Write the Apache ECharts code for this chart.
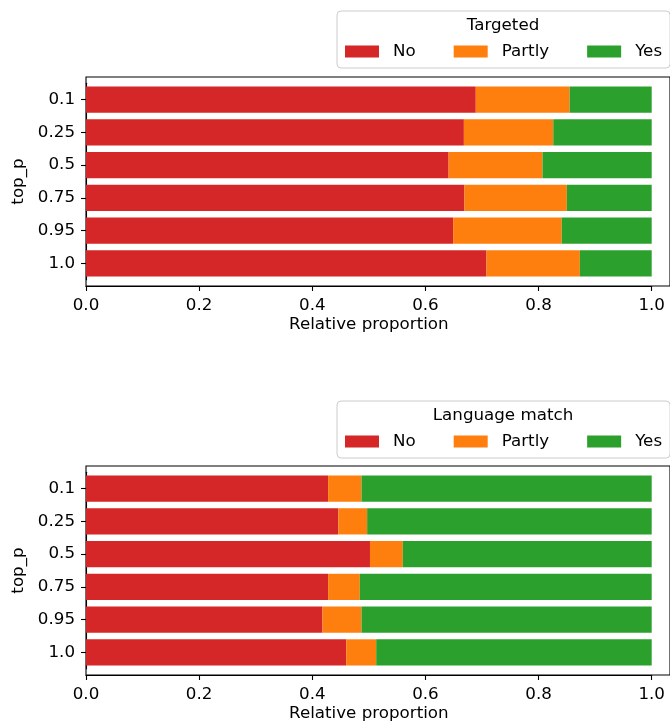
<!DOCTYPE html>
<html>
<head>
<meta charset="utf-8">
<script src="https://cdn.jsdelivr.net/npm/echarts@6/dist/echarts.min.js"></script>
<style>
  html, body { margin: 0; padding: 0; background: #fff; }
  #chart { width: 670px; height: 726px; }
</style>
</head>
<body>
<div id="chart"></div>
<script>
// top_p settings (one bar per setting, top to bottom)
const topP = ['0.1', '0.25', '0.5', '0.75', '0.95', '1.0'];
const answers = ['No', 'Partly', 'Yes'];

// "Targeted" relative proportions
const targetedNo     = [0.689, 0.668, 0.641, 0.669, 0.649, 0.708];
const targetedPartly = [0.166, 0.158, 0.166, 0.181, 0.192, 0.165];
const targetedYes    = [0.145, 0.174, 0.193, 0.150, 0.159, 0.127];

// "Language match" relative proportions
const languageNo     = [0.428, 0.446, 0.502, 0.428, 0.418, 0.460];
const languagePartly = [0.059, 0.051, 0.058, 0.056, 0.069, 0.053];
const languageYes    = [0.513, 0.503, 0.440, 0.516, 0.513, 0.487];

const panelTitles = ['Targeted', 'Language match'];
const xAxisTitle = 'Relative proportion';
const yAxisTitle = 'top_p';

const colors = { No: '#d62728', Partly: '#ff7f0e', Yes: '#2ca02c' };
const FONT = 'DejaVu Sans';
const FS = 16.7;

const chart = echarts.init(document.getElementById('chart'), null, { renderer: 'canvas' });

// panel geometry (frame = axes box, plot = category band area)
const panels = [
  { frameTop: 77, legendTop: 11 },
  { frameTop: 466, legendTop: 401 }
];
const LEFT = 86, UNIT = 565.7, FRAME_H = 209, PAD = 6.2, PLOT_H = 196.6;

const grids = [], xAxes = [], yAxes = [], series = [], legends = [], graphics = [];
const panelData = [
  [targetedNo, targetedPartly, targetedYes],
  [languageNo, languagePartly, languageYes]
];

panels.forEach((p, i) => {
  // frame grid: draws the axes box (extends past the right edge)
  grids.push({ left: LEFT, top: p.frameTop, width: 620, height: FRAME_H,
    show: true, borderColor: '#000', borderWidth: 1.1, backgroundColor: 'transparent', containLabel: false });
  // plot grid: holds the bars
  grids.push({ left: LEFT, top: p.frameTop + PAD, width: UNIT, height: PLOT_H, containLabel: false });
  const fg = 2 * i, pg = 2 * i + 1;

  xAxes.push({ gridIndex: fg, type: 'value', min: 0, max: 1, show: false });
  yAxes.push({ gridIndex: fg, type: 'value', min: 0, max: 1, show: false });

  xAxes.push({
    gridIndex: pg, type: 'value', min: 0, max: 1, interval: 0.2, offset: PAD,
    axisLine: { show: true, lineStyle: { color: '#000', width: 1.1 } },
    axisTick: { show: true, length: 5, lineStyle: { color: '#000', width: 1.1 } },
    splitLine: { show: false },
    axisLabel: { color: '#000', fontFamily: FONT, fontSize: FS, margin: 11,
      formatter: v => v.toFixed(1) },
    name: xAxisTitle, nameLocation: 'middle', nameGap: 30,
    nameTextStyle: { color: '#000', fontFamily: FONT, fontSize: FS }
  });
  yAxes.push({
    gridIndex: pg, type: 'category', data: topP, inverse: true,
    axisLine: { show: true, lineStyle: { color: '#000', width: 1.1 } },
    axisTick: { show: true, alignWithLabel: true, length: 5, lineStyle: { color: '#000', width: 1.1 } },
    axisLabel: { color: '#000', fontFamily: FONT, fontSize: FS, margin: 11 },
    name: yAxisTitle, nameLocation: 'middle', nameRotate: 90, nameGap: 51,
    nameTextStyle: { color: '#000', fontFamily: FONT, fontSize: FS }
  });

  answers.forEach((a, k) => {
    series.push({
      name: a, type: 'bar', stack: 'panel' + i,
      xAxisIndex: 2 * i + 1, yAxisIndex: 2 * i + 1,
      barWidth: '80%', data: panelData[i][k],
      itemStyle: { color: colors[a] }, emphasis: { disabled: true },
      silent: true, animation: false
    });
  });

  legends.push({
    data: answers, left: 337, top: p.legendTop, width: 420, orient: 'horizontal',
    icon: 'rect', itemWidth: 34, itemHeight: 12, itemGap: 38,
    padding: [32, 8, 8, 8],
    borderColor: '#cccccc', borderWidth: 1, borderRadius: 4,
    backgroundColor: 'rgba(255,255,255,0.8)',
    textStyle: { color: '#000', fontFamily: FONT, fontSize: FS, padding: [0, 0, 0, 9] },
    selectedMode: false
  });

  graphics.push({
    type: 'text', x: 503, y: p.legendTop + 15, z: 100,
    style: { text: panelTitles[i], fill: '#000', font: FS + 'px "' + FONT + '"',
      textAlign: 'center', textVerticalAlign: 'middle' }
  });
});

chart.setOption({
  animation: false,
  grid: grids,
  xAxis: xAxes,
  yAxis: yAxes,
  series: series,
  legend: legends,
  graphic: graphics
});
</script>
</body>
</html>
